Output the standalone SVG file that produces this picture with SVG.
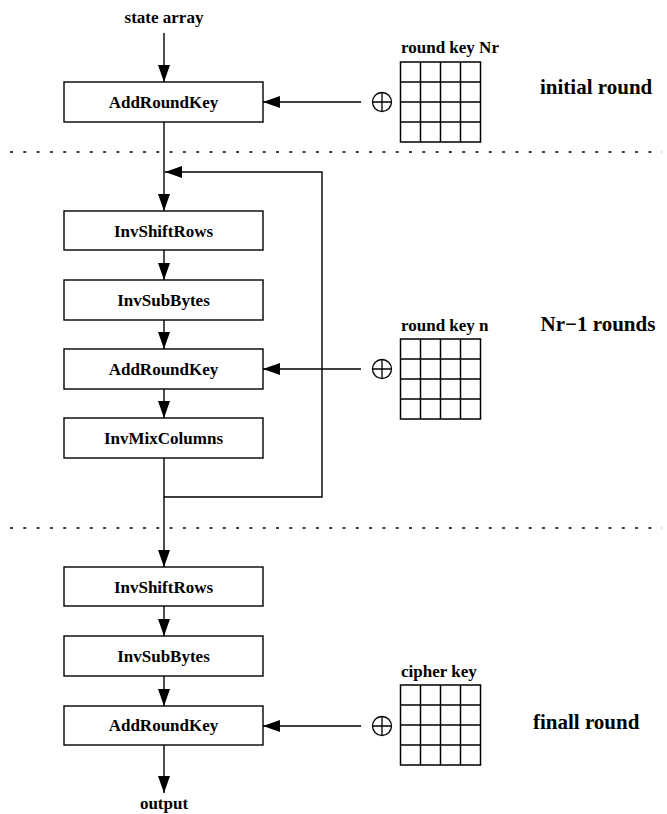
<svg xmlns="http://www.w3.org/2000/svg" width="667" height="814" viewBox="0 0 667 814">
  <style>
    .box { fill: #fff; stroke: #000; stroke-width: 1.4; }
    .lbl { font-family: "Liberation Serif", "Times New Roman", serif; font-weight: bold; font-size: 17px; fill: #000; }
    .side { font-family: "Liberation Serif", "Times New Roman", serif; font-weight: bold; font-size: 21px; fill: #000; }
    .wire { fill: none; stroke: #000; stroke-width: 1.4; }
    .arr { fill: none; stroke: #000; stroke-width: 1.4; marker-end: url(#ah); }
    .sep { fill: none; stroke: #000; stroke-width: 1.3; stroke-dasharray: 3 10.3; }
    .grid { fill: none; stroke: #000; stroke-width: 1.5; }
    .xor { fill: none; stroke: #000; stroke-width: 1.3; }
  </style>
  <defs>
    <marker id="ah" viewBox="0 0 17 12" refX="17" refY="6" markerWidth="17" markerHeight="12" markerUnits="userSpaceOnUse" orient="auto">
      <path d="M0,0 L17,6 L0,12 z" fill="#000"/>
    </marker>
    <!-- 4x4 key block, 80x80 -->
    <g id="keygrid">
      <rect class="grid" x="0" y="0" width="80" height="80"/>
      <path class="grid" d="M20,0V80M40,0V80M60,0V80M0,20H80M0,40H80M0,60H80"/>
    </g>
    <!-- XOR symbol -->
    <g id="oplus">
      <circle class="xor" cx="0" cy="0" r="9.5"/>
      <path class="xor" d="M-9.5,0H9.5M0,-9.5V9.5"/>
    </g>
  </defs>

  <rect width="667" height="814" fill="#fff"/>

  <!-- round separators -->
  <g id="separators">
    <line class="sep" x1="10" y1="152" x2="662" y2="152"/>
    <line class="sep" x1="10" y1="528" x2="662" y2="528"/>
  </g>

  <!-- connectors -->
  <g id="connectors">
    <line class="arr" x1="164" y1="33" x2="164" y2="82"/>
    <line class="arr" x1="361" y1="102" x2="263" y2="102"/>
    <line class="arr" x1="164" y1="122" x2="164" y2="211"/>
    <polyline class="arr" points="164,458 164,497 322,497 322,172 165,172"/>
    <line class="arr" x1="164" y1="250" x2="164" y2="280"/>
    <line class="arr" x1="164" y1="320" x2="164" y2="349"/>
    <line class="arr" x1="361" y1="369" x2="263" y2="369"/>
    <line class="arr" x1="164" y1="389" x2="164" y2="418"/>
    <line class="arr" x1="164" y1="497" x2="164" y2="567"/>
    <line class="arr" x1="164" y1="606" x2="164" y2="636"/>
    <line class="arr" x1="164" y1="676" x2="164" y2="706"/>
    <line class="arr" x1="361" y1="726" x2="263" y2="726"/>
    <line class="arr" x1="164" y1="745" x2="164" y2="793"/>
  </g>

  <text class="lbl" x="164" y="23" text-anchor="middle">state array</text>
  <text class="lbl" x="164" y="809" text-anchor="middle">output</text>

  <!-- initial round -->
  <g id="addroundkey-initial">
    <rect class="box" x="64" y="82" width="199" height="40"/>
    <text class="lbl" x="163.5" y="107.5" text-anchor="middle">AddRoundKey</text>
  </g>
  <g id="key-nr">
    <text class="lbl" x="401" y="53">round key Nr</text>
    <use href="#oplus" x="382" y="102"/>
    <use href="#keygrid" x="400.5" y="62"/>
  </g>
  <text class="side" x="540" y="94">initial round</text>

  <!-- main rounds -->
  <g id="invshiftrows-main">
    <rect class="box" x="64" y="211" width="199" height="39"/>
    <text class="lbl" x="163.5" y="236.5" text-anchor="middle">InvShiftRows</text>
  </g>
  <g id="invsubbytes-main">
    <rect class="box" x="64" y="280" width="199" height="40"/>
    <text class="lbl" x="163.5" y="305.5" text-anchor="middle">InvSubBytes</text>
  </g>
  <g id="addroundkey-main">
    <rect class="box" x="64" y="349" width="199" height="40"/>
    <text class="lbl" x="163.5" y="374.5" text-anchor="middle">AddRoundKey</text>
  </g>
  <g id="invmixcolumns-main">
    <rect class="box" x="64" y="418" width="199" height="40"/>
    <text class="lbl" x="163.5" y="443.5" text-anchor="middle">InvMixColumns</text>
  </g>
  <g id="key-n">
    <text class="lbl" x="401" y="331">round key n</text>
    <use href="#oplus" x="382" y="369"/>
    <use href="#keygrid" x="400.5" y="339"/>
  </g>
  <text class="side" x="540.5" y="331">Nr−1 rounds</text>

  <!-- final round -->
  <g id="invshiftrows-final">
    <rect class="box" x="64" y="567" width="199" height="39"/>
    <text class="lbl" x="163.5" y="592.5" text-anchor="middle">InvShiftRows</text>
  </g>
  <g id="invsubbytes-final">
    <rect class="box" x="64" y="636" width="199" height="40"/>
    <text class="lbl" x="163.5" y="661.5" text-anchor="middle">InvSubBytes</text>
  </g>
  <g id="addroundkey-final">
    <rect class="box" x="64" y="706" width="199" height="39"/>
    <text class="lbl" x="163.5" y="731" text-anchor="middle">AddRoundKey</text>
  </g>
  <g id="key-cipher">
    <text class="lbl" x="401" y="677">cipher key</text>
    <use href="#oplus" x="382" y="726"/>
    <use href="#keygrid" x="400.5" y="685"/>
  </g>
  <text class="side" x="533" y="729">finall round</text>
</svg>
